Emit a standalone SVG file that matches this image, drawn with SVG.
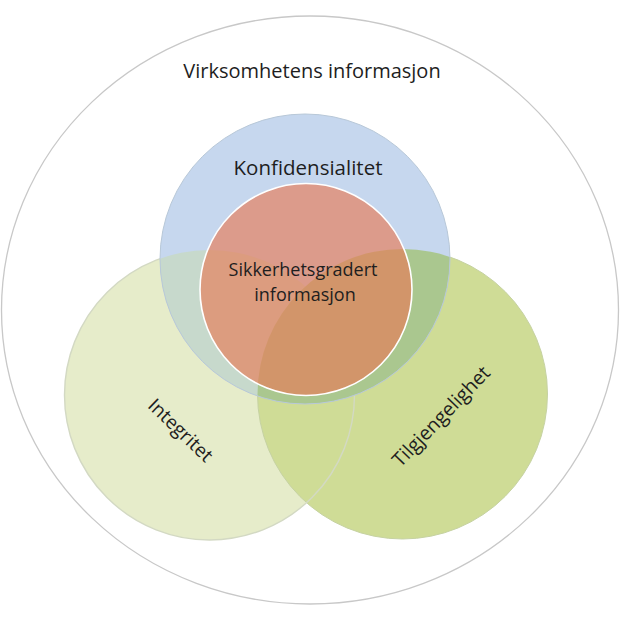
<svg xmlns="http://www.w3.org/2000/svg" width="620" height="621" viewBox="0 0 620 621">
  <style>
    .lbl { font-family: "Open Sans", "Noto Sans", "Liberation Sans", sans-serif; fill: #1e1e1e; text-anchor: middle; }
  </style>
  <defs>
    <clipPath id="clipBlue"><circle cx="305" cy="259" r="145"/></clipPath>
  </defs>
  <rect width="620" height="621" fill="#ffffff"/>
  <g id="virksomhetens-informasjon">
    <ellipse cx="310" cy="310" rx="308.5" ry="294" fill="#ffffff" stroke="#c8c8c8" stroke-width="1.3"/>
    <text class="lbl" x="312" y="78" font-size="20">Virksomhetens informasjon</text>
  </g>
  <g id="integritet">
    <circle cx="209.5" cy="395" r="145" fill="#e6ecca"/>
  </g>
  <g id="tilgjengelighet">
    <circle cx="402.5" cy="394" r="145" fill="#cfdc96" stroke="#c6d2a2" stroke-width="1"/>
  </g>
  <g id="integritet-outline">
    <circle cx="209.5" cy="395" r="145" fill="none" stroke="#d3d9c3" stroke-width="1.4"/>
  </g>
  <g id="konfidensialitet">
    <circle cx="305" cy="259" r="145" fill="#c6d7ee"/>
    <circle cx="209.5" cy="395" r="145" fill="#c7d9cc" clip-path="url(#clipBlue)"/>
    <circle cx="402.5" cy="394" r="145" fill="#aac78f" clip-path="url(#clipBlue)"/>
    <circle cx="305" cy="259" r="145" fill="none" stroke="#b8c8d8" stroke-width="1"/>
    <text class="lbl" x="308" y="175" font-size="20.5">Konfidensialitet</text>
  </g>
  <g id="sikkerhetsgradert-informasjon">
    <circle cx="306" cy="289.5" r="106" fill="#e87b56" fill-opacity="0.65" stroke="#ffffff" stroke-width="1.6"/>
    <text class="lbl" x="303" y="276" font-size="18">Sikkerhetsgradert</text>
    <text class="lbl" x="305" y="300.7" font-size="18">informasjon</text>
  </g>
  <g id="integritet-label">
    <text class="lbl" font-size="19" transform="translate(176 435) rotate(44)">Integritet</text>
  </g>
  <g id="tilgjengelighet-label">
    <text class="lbl" font-size="19.5" transform="translate(446 421) rotate(-46)">Tilgjengelighet</text>
  </g>
</svg>
